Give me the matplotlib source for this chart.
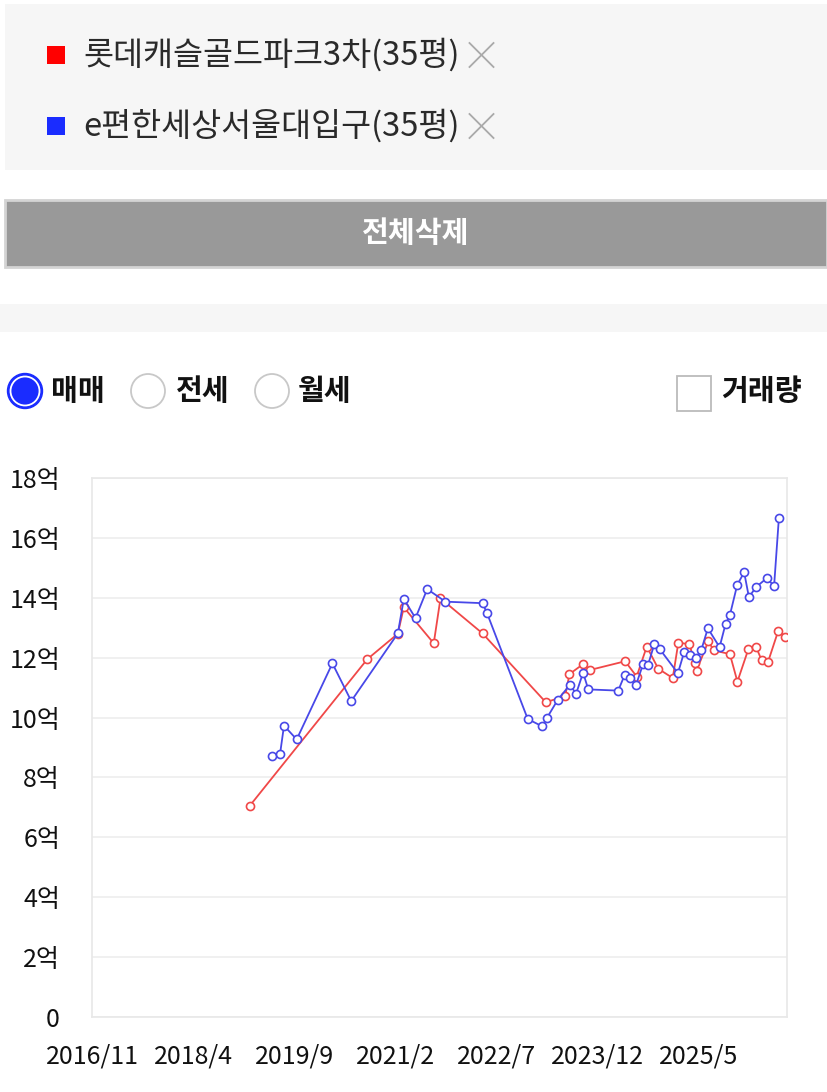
import matplotlib.pyplot as plt
from matplotlib.patches import Rectangle, Circle
import numpy as np

plt.rcParams['font.family'] = ['Noto Sans CJK KR', 'DejaVu Sans']

# 실거래가 (억) - 롯데캐슬골드파크3차(35평)
red_dates = ['2019-01-16', '2020-09-09', '2021-02-13', '2021-03-13', '2021-08-14',
             '2021-09-18', '2022-04-20', '2023-03-09', '2023-06-17', '2023-07-08',
             '2023-09-16', '2023-10-22', '2024-04-19', '2024-06-17', '2024-08-08',
             '2024-10-06', '2024-12-19', '2025-01-17', '2025-03-13', '2025-04-11',
             '2025-04-19', '2025-06-18', '2025-07-17', '2025-10-07', '2025-11-15',
             '2026-01-10', '2026-02-18', '2026-03-17', '2026-04-20', '2026-06-11',
             '2026-07-14']
red_prices = [7.05, 11.95, 12.8, 13.68, 12.48,
              13.98, 12.81, 10.51, 10.72, 11.45,
              11.78, 11.59, 11.88, 11.37, 12.37,
              11.63, 11.32, 12.5, 12.45, 11.81,
              11.57, 12.54, 12.24, 12.12, 11.2,
              12.28, 12.37, 11.92, 11.87, 12.9,
              12.7]

# e편한세상서울대입구(35평)
blue_dates = ['2019-05-11', '2019-06-19', '2019-07-09', '2019-09-13', '2020-03-13',
              '2020-06-18', '2021-02-13', '2021-03-13', '2021-05-12', '2021-07-11',
              '2021-10-13', '2022-04-20', '2022-05-13', '2022-12-08', '2023-02-20',
              '2023-03-14', '2023-05-09', '2023-07-10', '2023-08-12', '2023-09-17',
              '2023-10-13', '2024-03-14', '2024-04-17', '2024-05-14', '2024-06-14',
              '2024-07-20', '2024-08-14', '2024-09-16', '2024-10-14', '2025-01-15',
              '2025-02-17', '2025-03-15', '2025-04-16', '2025-05-13', '2025-06-16',
              '2025-08-15', '2025-09-15', '2025-10-07', '2025-11-14', '2025-12-19',
              '2026-01-13', '2026-02-18', '2026-04-12', '2026-05-20', '2026-06-14']
blue_prices = [8.72, 8.78, 9.73, 9.27, 11.81,
               10.55, 12.81, 13.96, 13.32, 14.29,
               13.87, 13.82, 13.48, 9.95, 9.71,
               9.98, 10.59, 11.09, 10.8, 11.5,
               10.94, 10.9, 11.43, 11.33, 11.09,
               11.8, 11.75, 12.45, 12.28, 11.48,
               12.2, 12.1, 12.0, 12.26, 12.98,
               12.35, 13.12, 13.42, 14.43, 14.85,
               14.02, 14.35, 14.65, 14.4, 16.66]

x_tick_labels = ['2016/11', '2018/4', '2019/9', '2021/2', '2022/7', '2023/12', '2025/5']
y_ticks = [0, 2, 4, 6, 8, 10, 12, 14, 16, 18]

legend_names = ['롯데캐슬골드파크3차(35평)', 'e편한세상서울대입구(35평)']
radio_labels = ['매매', '전세', '월세']

RED = '#f04848'
BLUE = '#4848e8'


def to_months(d):
    # months since 2016/11
    y, m, dd = map(int, d.split('-'))
    return (y - 2016) * 12 + (m - 11) + (dd - 1) / 30.0


def tick_to_months(lbl):
    y, m = map(int, lbl.split('/'))
    return (y - 2016) * 12 + (m - 11)


fig = plt.figure(figsize=(8.27, 10.92), dpi=100)

# page background drawn in pixel coordinates
bg = fig.add_axes([0, 0, 1, 1])
bg.set_xlim(0, 827)
bg.set_ylim(1092, 0)
bg.axis('off')

# selected complexes box
bg.add_patch(Rectangle((5, 4), 822, 166, color='#f6f6f6', lw=0))
for i, (name, c) in enumerate(zip(legend_names, ['#ff0000', '#1a2cff'])):
    yc = 55 + i * 71
    bg.add_patch(Rectangle((47, yc - 9), 18, 18, color=c, lw=0))
    t = bg.text(83, yc, name, fontsize=23.5, color='#2a2a2a', va='center', ha='left')
    fig.canvas.draw()
    bb = t.get_window_extent()
    xr = bb.x1 + 10
    bg.plot([xr, xr + 24], [yc - 12, yc + 12], color='#aaaaaa', lw=1.3)
    bg.plot([xr, xr + 24], [yc + 12, yc - 12], color='#aaaaaa', lw=1.3)

# delete-all button
bg.add_patch(Rectangle((5, 200), 822, 67, facecolor='#999999', edgecolor='#d4d4d4', lw=2))
bg.text(416, 233, '전체삭제', fontsize=21, color='white', fontweight='bold',
        ha='center', va='center')

# divider band
bg.add_patch(Rectangle((0, 304), 827, 28, color='#f6f6f6', lw=0))

# radio buttons
ry = 391
bg.add_patch(Circle((25, ry), 17.5, facecolor='#1a2cff', edgecolor='#1a2cff', lw=1))
bg.add_patch(Circle((25, ry), 14.5, facecolor='none', edgecolor='white', lw=1.3))
for cx in [148, 272]:
    bg.add_patch(Circle((cx, ry), 17, facecolor='white', edgecolor='#c8c8c8', lw=1.3))
for lx, lbl in zip([51, 176, 298], radio_labels):
    bg.text(lx, ry, lbl, fontsize=21, fontweight='bold', color='#111111',
            ha='left', va='center')

# volume checkbox
bg.add_patch(Rectangle((677, 376), 34, 35, facecolor='white', edgecolor='#bbbbbb', lw=1.3))
bg.text(721, ry, '거래량', fontsize=21, fontweight='bold', color='#111111',
        ha='left', va='center')

# price chart
ax = fig.add_axes([92 / 827, 1 - 1017 / 1092, (787 - 92) / 827, (1017 - 478) / 1092])
ax.set_facecolor('white')

rx = [to_months(d) for d in red_dates]
bx = [to_months(d) for d in blue_dates]
ax.plot(rx, red_prices, color=RED, lw=1.3, marker='o', ms=5.8, mfc='white',
        mec=RED, mew=1.2, zorder=3)
ax.plot(bx, blue_prices, color=BLUE, lw=1.3, marker='o', ms=5.8, mfc='white',
        mec=BLUE, mew=1.2, zorder=4)

ax.set_xlim(0, 116.8)
ax.set_ylim(0, 18)
ax.set_yticks(y_ticks)
ax.set_yticklabels(['0' if v == 0 else f'{v}억' for v in y_ticks])
ax.set_xticks([tick_to_months(l) for l in x_tick_labels])
ax.set_xticklabels(x_tick_labels)
ax.grid(axis='y', color='#eeeeee', lw=1.2)
ax.set_axisbelow(True)
ax.tick_params(length=0, labelsize=18, colors='#111111')
ax.tick_params(axis='y', pad=23)
for lbl in ax.get_yticklabels():
    lbl.set_horizontalalignment('right')
ax.tick_params(axis='x', pad=19)
for s in ax.spines.values():
    s.set_color('#e8e8e8')
    s.set_linewidth(1.2)

fig.savefig('out.png', dpi=100)
